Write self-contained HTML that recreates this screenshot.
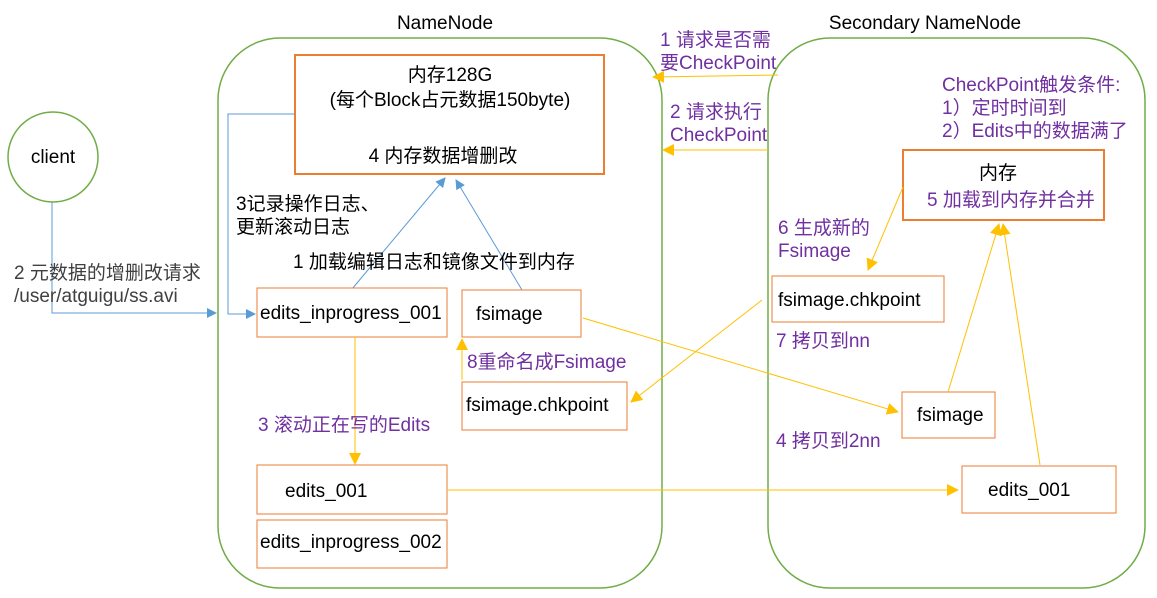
<!DOCTYPE html>
<html><head><meta charset="utf-8"><style>
html,body{margin:0;padding:0;background:#fff;}
svg{display:block;font-family:"Liberation Sans","Noto Sans CJK SC",sans-serif;}
.t{font-size:19px;fill:#000}
.p{font-size:19px;fill:#7030a0}
.g{font-size:19px;fill:#404040}
</style></head><body>
<svg width="1157" height="598" viewBox="0 0 1157 598" xmlns="http://www.w3.org/2000/svg">
<defs>
<marker id="ab" markerWidth="10" markerHeight="10" refX="9" refY="5" orient="auto" markerUnits="userSpaceOnUse"><path d="M0,0 L10,5 L0,10 z" fill="#5b9bd5"/></marker>
<marker id="ay" markerWidth="12" markerHeight="12" refX="11" refY="6" orient="auto" markerUnits="userSpaceOnUse"><path d="M0,0 L12,6 L0,12 z" fill="#ffc000"/></marker>
</defs>
<rect x="218" y="38" width="444" height="550" rx="62" fill="none" stroke="#70ad47" stroke-width="1.5"/>
<rect x="768" y="38" width="377" height="550" rx="62" fill="none" stroke="#70ad47" stroke-width="1.5"/>
<text class="t" x="445" y="29" text-anchor="middle">NameNode</text>
<text class="t" x="925" y="29" text-anchor="middle">Secondary NameNode</text>
<circle cx="53" cy="157" r="45" fill="none" stroke="#70ad47" stroke-width="1.5"/>
<text class="t" x="53" y="163" text-anchor="middle">client</text>
<polyline points="52,202 52,313 216,313" fill="none" stroke="#5b9bd5" marker-end="url(#ab)"/>
<text class="g" x="14" y="279">2 元数据的增删改请求</text>
<text class="g" x="14" y="302">/user/atguigu/ss.avi</text>
<rect x="295" y="55" width="309" height="119" fill="#fff" stroke="#ed7d31" stroke-width="2"/>
<text class="t" x="450" y="81" text-anchor="middle">内存128G</text>
<text class="t" x="450" y="106" text-anchor="middle">(每个Block占元数据150byte)</text>
<text class="t" x="443" y="162" text-anchor="middle">4 内存数据增删改</text>
<polyline points="295,114 228,114 228,314 255,314" fill="none" stroke="#5b9bd5" marker-end="url(#ab)"/>
<text class="t" x="236" y="210">3记录操作日志、</text>
<text class="t" x="236" y="233">更新滚动日志</text>
<line x1="352" y1="289" x2="445" y2="178" stroke="#5b9bd5" marker-end="url(#ab)"/>
<line x1="522" y1="290" x2="456" y2="180" stroke="#5b9bd5" marker-end="url(#ab)"/>
<text class="t" x="293" y="268">1 加载编辑日志和镜像文件到内存</text>
<rect x="257" y="288" width="190" height="49" fill="#fff" stroke="#ed7d31"/>
<text class="t" x="260" y="319">edits_inprogress_001</text>
<rect x="462" y="290" width="119" height="47" fill="#fff" stroke="#ed7d31"/>
<text class="t" x="476" y="320">fsimage</text>
<line x1="355" y1="337" x2="355" y2="464" stroke="#ffc000" marker-end="url(#ay)"/>
<text class="p" x="258" y="431">3 滚动正在写的Edits</text>
<rect x="257" y="465" width="190" height="49" fill="#fff" stroke="#ed7d31"/>
<text class="t" x="285" y="497">edits_001</text>
<rect x="257" y="520" width="190" height="48" fill="#fff" stroke="#ed7d31"/>
<text class="t" x="260" y="548">edits_inprogress_002</text>
<rect x="462" y="382" width="165" height="48" fill="#fff" stroke="#ed7d31"/>
<text class="t" x="466" y="411">fsimage.chkpoint</text>
<line x1="462" y1="380" x2="462" y2="339" stroke="#ffc000" marker-end="url(#ay)"/>
<text class="p" x="467" y="368">8重命名成Fsimage</text>
<line x1="778" y1="75" x2="653" y2="77" stroke="#ffc000" marker-end="url(#ay)"/>
<text class="p" x="660" y="46">1 请求是否需</text>
<text class="p" x="660" y="69">要CheckPoint</text>
<line x1="768" y1="150" x2="663" y2="150" stroke="#ffc000" marker-end="url(#ay)"/>
<text class="p" x="670" y="118">2 请求执行</text>
<text class="p" x="670" y="141">CheckPoint</text>
<text class="p" x="942" y="91">CheckPoint触发条件:</text>
<text class="p" x="942" y="114">1）定时时间到</text>
<text class="p" x="942" y="137">2）Edits中的数据满了</text>
<rect x="903" y="150" width="201" height="70" fill="#fff" stroke="#ed7d31" stroke-width="2"/>
<text class="t" x="998" y="179" text-anchor="middle">内存</text>
<text class="p" x="927" y="206">5 加载到内存并合并</text>
<text class="p" x="778" y="234">6 生成新的</text>
<text class="p" x="778" y="257">Fsimage</text>
<line x1="903" y1="187" x2="868" y2="270" stroke="#ffc000" marker-end="url(#ay)"/>
<rect x="772" y="276" width="172" height="46" fill="#fff" stroke="#ed7d31"/>
<text class="t" x="778" y="306">fsimage.chkpoint</text>
<text class="p" x="776" y="347">7 拷贝到nn</text>
<line x1="762" y1="300" x2="631" y2="402" stroke="#ffc000" marker-end="url(#ay)"/>
<line x1="583" y1="318" x2="898" y2="412" stroke="#ffc000" marker-end="url(#ay)"/>
<rect x="902" y="392" width="93" height="46" fill="#fff" stroke="#ed7d31"/>
<text class="t" x="917" y="421">fsimage</text>
<text class="p" x="776" y="447">4 拷贝到2nn</text>
<line x1="447" y1="490" x2="958" y2="490" stroke="#ffc000" marker-end="url(#ay)"/>
<rect x="962" y="466" width="154" height="47" fill="#fff" stroke="#ed7d31"/>
<text class="t" x="988" y="496">edits_001</text>
<line x1="948" y1="392" x2="999" y2="224" stroke="#ffc000" marker-end="url(#ay)"/>
<line x1="1040" y1="465" x2="1003" y2="224" stroke="#ffc000" marker-end="url(#ay)"/>
</svg>
</body></html>
